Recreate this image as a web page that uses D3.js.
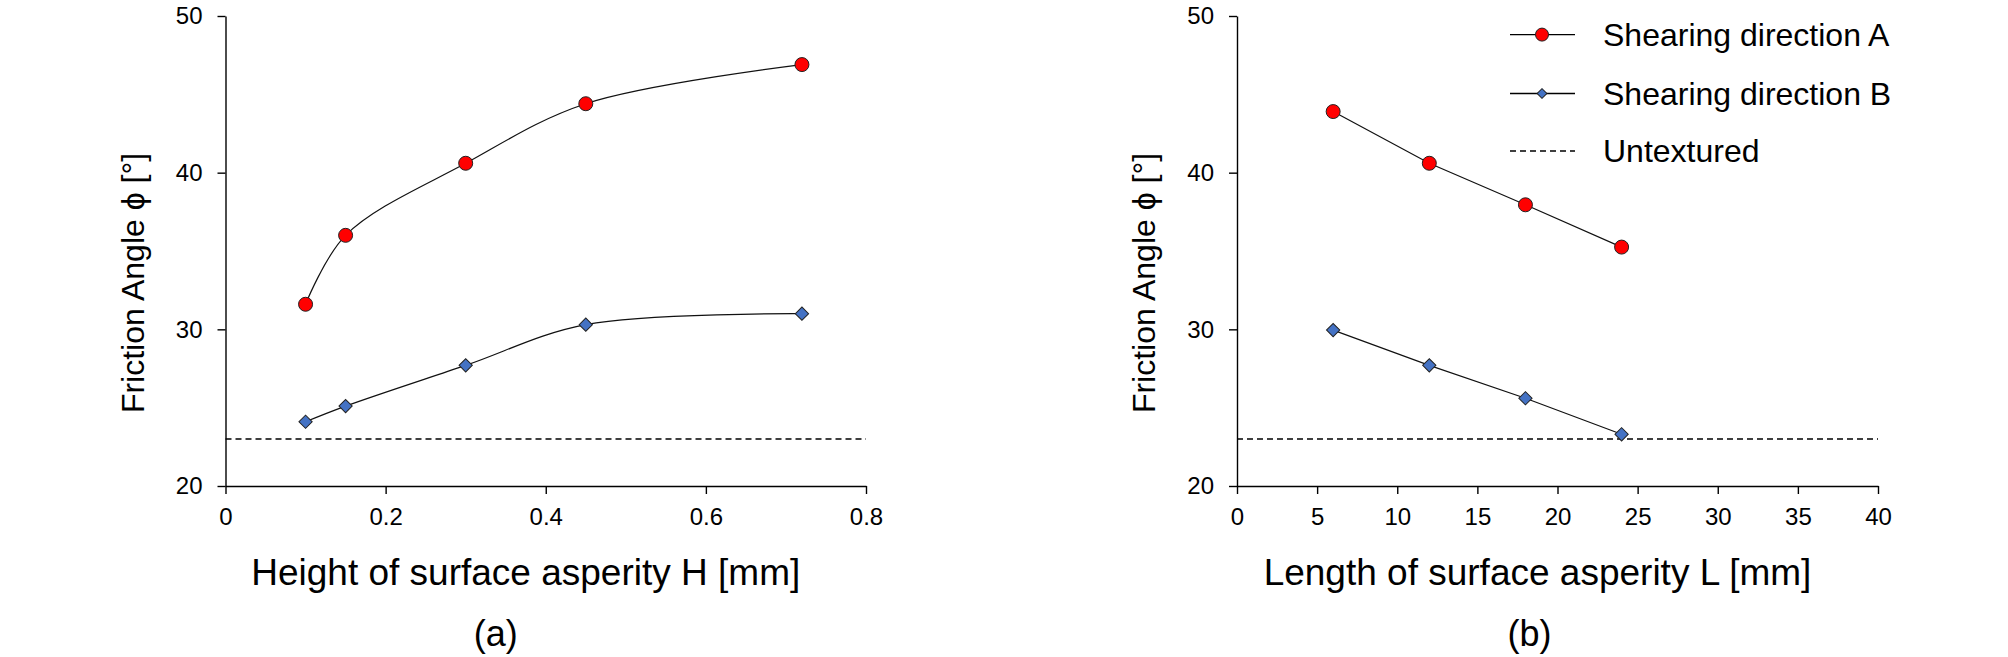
<!DOCTYPE html>
<html>
<head>
<meta charset="utf-8">
<script src="https://cdn.jsdelivr.net/npm/d3@7"></script>
<style>
  body { margin: 0; background: #fff; }
  text { font-family: "Liberation Sans", Arial, sans-serif; fill: #000; }
</style>
</head>
<body>
<div id="chart"></div>
<script>
// data
var heightH  = [0.1, 0.15, 0.3, 0.45, 0.72];
var angleA_H = [31.6, 36.0, 40.6, 44.4, 46.9];
var angleB_H = [24.1, 25.1, 27.7, 30.3, 31.0];

var lengthL  = [6, 12, 18, 24];
var angleA_L = [43.9, 40.6, 37.95, 35.25];
var angleB_L = [29.95, 27.7, 25.6, 23.3];

var untextured = 23.0;

var yTicks  = [20, 30, 40, 50];
var xTicksH = [0, 0.2, 0.4, 0.6, 0.8];
var xTicksL = [0, 5, 10, 15, 20, 25, 30, 35, 40];

var legendNames = ["Shearing direction A", "Shearing direction B", "Untextured"];

var W = 2008, H = 657;
var yTop = 16, yBottom = 486;
var blue = "#4472c4";

var svg = d3.select("#chart")
  .append("svg")
    .attr("width", W)
    .attr("height", H);

function drawPanel(p) {
  var x = d3.scaleLinear().domain(p.xDomain).range([p.left, p.right]);
  var y = d3.scaleLinear().domain([20, 50]).range([yBottom, yTop]);
  var g = svg.append("g");

  // axes
  var xAxis = g.append("g")
    .attr("transform", "translate(0," + yBottom + ")")
    .call(d3.axisBottom(x).tickValues(p.xTicks).tickSizeInner(8).tickSizeOuter(0).tickPadding(14)
      .tickFormat(d3.format("")));
  var yAxis = g.append("g")
    .attr("transform", "translate(" + p.left + ",0)")
    .call(d3.axisLeft(y).tickValues(yTicks).tickSizeInner(8).tickSizeOuter(0).tickPadding(15));
  [xAxis, yAxis].forEach(function(a) {
    a.selectAll("path, line").attr("stroke", "#000").attr("stroke-width", 1.4);
    a.selectAll("text").style("font-size", "24px").attr("fill", "#000");
  });

  // untextured reference
  g.append("line")
    .attr("x1", x(p.xDomain[0])).attr("x2", x(p.xDomain[1]))
    .attr("y1", y(untextured)).attr("y2", y(untextured))
    .attr("stroke", "#000").attr("stroke-width", 1.3)
    .attr("stroke-dasharray", "6,4");

  var line = d3.line()
    .x(function(d) { return x(d[0]); })
    .y(function(d) { return y(d[1]); })
    .curve(p.curve);

  var dataA = d3.zip(p.xs, p.a), dataB = d3.zip(p.xs, p.b);

  [dataA, dataB].forEach(function(d) {
    g.append("path").datum(d)
      .attr("d", line)
      .attr("fill", "none")
      .attr("stroke", "#111")
      .attr("stroke-width", 1.2);
  });

  g.selectAll(".ptA").data(dataA).enter().append("circle")
    .attr("cx", function(d) { return x(d[0]); })
    .attr("cy", function(d) { return y(d[1]); })
    .attr("r", 7)
    .attr("fill", "#ff0000").attr("stroke", "#222").attr("stroke-width", 1);

  g.selectAll(".ptB").data(dataB).enter().append("path")
    .attr("d", d3.symbol().type(d3.symbolSquare).size(88))
    .attr("transform", function(d) { return "translate(" + x(d[0]) + "," + y(d[1]) + ") rotate(45)"; })
    .attr("fill", blue).attr("stroke", "#222").attr("stroke-width", 1);

  // labels
  var mid = (p.left + p.right) / 2;
  g.append("text")
    .attr("transform", "translate(" + (p.left - 82) + ",283) rotate(-90)")
    .attr("text-anchor", "middle")
    .style("font-size", "32px")
    .text("Friction Angle \u03d5 [\u00b0]");
  g.append("text")
    .attr("x", mid - 20).attr("y", 585)
    .attr("text-anchor", "middle")
    .style("font-size", "37px")
    .text(p.xLabel);
  g.append("text")
    .attr("x", mid + p.tagShift).attr("y", 646)
    .attr("text-anchor", "middle")
    .style("font-size", "36px")
    .text(p.tag);
}

drawPanel({left: 225.5, right: 866, xDomain: [0, 0.8], xTicks: xTicksH,
  xs: heightH, a: angleA_H, b: angleB_H, curve: d3.curveCatmullRom.alpha(0.5),
  xLabel: "Height of surface asperity H [mm]", tag: "(a)", tagShift: -50});

drawPanel({left: 1237, right: 1878, xDomain: [0, 40], xTicks: xTicksL,
  xs: lengthL, a: angleA_L, b: angleB_L, curve: d3.curveLinear,
  xLabel: "Length of surface asperity L [mm]", tag: "(b)", tagShift: -28});

// legend
var legendY = [34.6, 93.5, 151];
var leg = svg.append("g");
legendNames.forEach(function(name, i) {
  var row = leg.append("g").attr("transform", "translate(0," + legendY[i] + ")");
  row.append("line")
    .attr("x1", 1510).attr("x2", 1575).attr("y1", 0).attr("y2", 0)
    .attr("stroke", "#000").attr("stroke-width", i == 2 ? 1.3 : 1.4)
    .attr("stroke-dasharray", i == 2 ? "6,4" : null);
  if (i == 0) {
    row.append("circle").attr("cx", 1542).attr("cy", 0).attr("r", 6.5)
      .attr("fill", "#ff0000").attr("stroke", "#222");
  } else if (i == 1) {
    row.append("path")
      .attr("d", d3.symbol().type(d3.symbolSquare).size(48))
      .attr("transform", "translate(1542,0) rotate(45)")
      .attr("fill", blue).attr("stroke", "#222");
  }
  row.append("text")
    .attr("x", 1603).attr("y", 11)
    .style("font-size", "32px")
    .text(name);
});
</script>
</body>
</html>
